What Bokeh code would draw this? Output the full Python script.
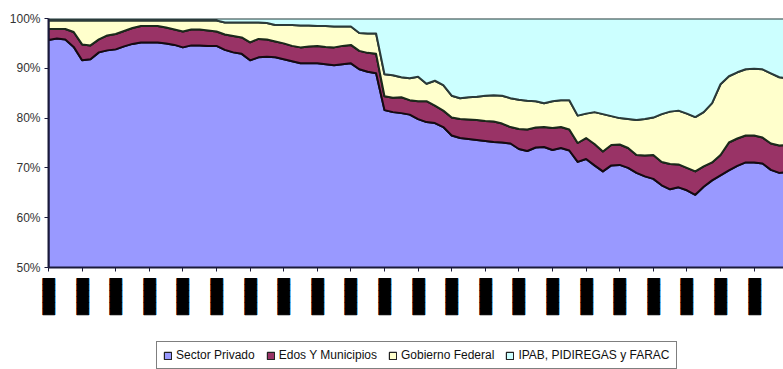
import numpy as np
from bokeh.plotting import figure
from bokeh.layouts import column
from bokeh.models import Range1d, FixedTicker, Legend, LegendItem
from bokeh.embed import file_html
from bokeh.resources import INLINE

# Monthly observations (index 0 = first month shown)
months = list(range(89))

# Share of total debt by holder, % of total
sector_privado = [
    95.7, 96.0, 95.8, 94.3, 91.6, 91.8, 93.2, 93.6, 93.8, 94.4,
    94.9, 95.2, 95.2, 95.2, 95.0, 94.7, 94.2, 94.6, 94.6, 94.5,
    94.5, 93.7, 93.2, 92.9, 91.6, 92.2, 92.3, 92.2, 91.8, 91.4,
    91.0, 91.0, 91.0, 90.8, 90.6, 90.8, 91.0, 89.8, 89.3, 89.0,
    81.6, 81.2, 81.0, 80.7, 79.8, 79.2, 79.0, 78.2, 76.5, 76.0,
    75.8, 75.6, 75.4, 75.2, 75.1, 74.9, 73.8, 73.4, 74.1, 74.2,
    73.6, 74.0, 73.5, 71.2, 71.8, 70.5, 69.3, 70.5, 70.6, 70.0,
    69.0, 68.3, 67.8, 66.5, 65.7, 66.1, 65.5, 64.6, 66.2, 67.5,
    68.5, 69.5, 70.4, 71.1, 71.1, 70.9, 69.6, 69.0, 69.2,
]
edos_municipios = [
    2.2, 1.9, 2.1, 3.0, 3.2, 2.8, 2.6, 3.0, 3.1, 3.1,
    3.2, 3.3, 3.3, 3.3, 3.2, 3.1, 3.2, 3.2, 3.2, 3.1,
    2.9, 3.1, 3.3, 3.3, 3.6, 3.7, 3.5, 3.2, 3.2, 3.1,
    3.2, 3.4, 3.5, 3.5, 3.6, 3.7, 3.7, 3.7, 3.8, 3.9,
    2.8, 2.9, 3.2, 2.9, 3.6, 4.2, 3.5, 3.3, 3.6, 3.8,
    3.9, 4.0, 4.0, 4.1, 3.8, 3.3, 4.0, 4.3, 4.0, 4.0,
    4.4, 4.2, 4.2, 3.8, 4.2, 4.3, 4.0, 4.1, 4.1, 4.0,
    3.6, 4.2, 4.8, 4.7, 5.1, 4.6, 4.5, 4.7, 4.1, 3.6,
    4.1, 5.6, 5.5, 5.4, 5.4, 5.2, 5.3, 5.5, 5.4,
]
gobierno_federal = [
    1.7, 1.7, 1.7, 2.3, 4.8, 5.0, 3.8, 3.0, 2.7, 2.1,
    1.5, 1.1, 1.1, 1.1, 1.4, 1.8, 2.2, 1.8, 1.8, 2.0,
    2.2, 2.4, 2.7, 3.0, 4.0, 3.3, 3.3, 3.3, 3.7, 4.2,
    4.4, 4.2, 4.0, 4.2, 4.2, 3.9, 3.7, 3.6, 3.9, 4.1,
    4.4, 4.5, 4.0, 4.4, 4.9, 3.5, 5.0, 5.1, 4.4, 4.2,
    4.5, 4.7, 5.1, 5.3, 5.6, 5.8, 5.9, 5.8, 5.3, 4.8,
    5.4, 5.4, 5.9, 5.5, 4.9, 6.4, 7.5, 5.8, 5.3, 5.8,
    7.0, 7.3, 7.5, 9.6, 10.5, 10.8, 10.9, 10.9, 10.9, 11.9,
    14.2, 13.3, 13.3, 13.3, 13.4, 13.7, 14.1, 13.7, 13.4,
]
ipab_pidiregas_farac = [
    0.4, 0.4, 0.4, 0.4, 0.4, 0.4, 0.4, 0.4, 0.4, 0.4,
    0.4, 0.4, 0.4, 0.4, 0.4, 0.4, 0.4, 0.4, 0.4, 0.4,
    0.4, 0.8, 0.8, 0.8, 0.8, 0.8, 0.9, 1.3, 1.3, 1.3,
    1.4, 1.4, 1.5, 1.5, 1.6, 1.6, 1.6, 2.9, 3.0, 3.0,
    11.2, 11.4, 11.8, 12.0, 11.7, 13.1, 12.5, 13.4, 15.5, 16.0,
    15.8, 15.7, 15.5, 15.4, 15.5, 16.0, 16.3, 16.5, 16.6, 17.0,
    16.6, 16.4, 16.4, 19.5, 19.1, 18.8, 19.2, 19.6, 20.0, 20.2,
    20.4, 20.2, 19.9, 19.2, 18.7, 18.5, 19.1, 19.8, 18.8, 17.0,
    13.2, 11.6, 10.8, 10.2, 10.1, 10.2, 11.0, 11.8, 12.0,
]

series_names = ["Sector Privado", "Edos Y Municipios", "Gobierno Federal",
                "IPAB, PIDIREGAS y FARAC"]
series_colors = ["#9999FF", "#993366", "#FFFFCC", "#CCFFFF"]
edge_colors = ["#14143c", "#140a10", "#1b2a1b", "#2a3a3a"]

y_ticks = [50, 60, 70, 80, 90, 100]
y_tick_labels = ["50%", "60%", "70%", "80%", "90%", "100%"]
x_ticks = list(range(0, 89, 4))
x_tick_labels = ["\u2588\u2588\u2588\u2588\u2588\u2588"] * len(x_ticks)

# ---- main stacked-share area chart ----
p = figure(width=783, height=330, output_backend="svg", toolbar_location=None,
           x_range=Range1d(0, 87.5), y_range=Range1d(50, 100),
           min_border_left=48, min_border_right=0, min_border_top=18,
           min_border_bottom=63)
p.background_fill_color = "white"
p.border_fill_color = "white"
p.outline_line_color = None
p.grid.visible = False

x = np.array(months, dtype=float)
stack = np.cumsum(np.array([sector_privado, edos_municipios,
                            gobierno_federal, ipab_pidiregas_farac]), axis=0)
lower = np.zeros_like(x)
for k in range(len(series_names)):
    upper = stack[k]
    xs = np.concatenate([x, x[::-1]])
    ys = np.concatenate([upper, lower[::-1]])
    p.patch(xs, ys, fill_color=series_colors[k], line_color=edge_colors[k],
            line_width=2, line_join="round")
    lower = upper

p.yaxis.ticker = FixedTicker(ticks=y_ticks)
p.yaxis.major_label_overrides = dict(zip(y_ticks, y_tick_labels))
p.yaxis.minor_tick_line_color = None
p.yaxis.major_tick_in = 0
p.yaxis.major_tick_out = 4
p.yaxis.major_label_standoff = 4
p.yaxis.major_label_text_font = "Liberation Sans"
p.yaxis.major_label_text_font_size = "12px"
p.yaxis.major_label_text_color = "#333333"

p.xaxis.ticker = FixedTicker(ticks=x_ticks)
p.xaxis.major_label_overrides = dict(zip(x_ticks, x_tick_labels))
p.xaxis.minor_tick_line_color = None
p.xaxis.major_tick_in = 0
p.xaxis.major_tick_out = 4
p.xaxis.major_label_standoff = 7
p.xaxis.major_label_orientation = np.pi / 2
p.xaxis.major_label_text_font = "DejaVu Sans Mono"
p.xaxis.major_label_text_font_size = "10px"
p.xaxis.major_label_text_color = "black"
p.xaxis.major_label_text_outline_color = "black"

for ax in (p.xaxis, p.yaxis):
    ax.axis_line_color = "#1a1a3a"
    ax.axis_line_width = 2
    ax.major_tick_line_color = "#1a1a3a"

# ---- legend strip under the chart ----
lg = figure(width=783, height=39, output_backend="svg", toolbar_location=None,
            x_range=Range1d(0, 1), y_range=Range1d(0, 1), min_border=0,
            x_axis_location=None, y_axis_location=None)
lg.grid.visible = False
lg.outline_line_color = None
lg.background_fill_color = "white"
lg.border_fill_color = "white"

# swatch sources sit outside the strip's ranges; only their legend keys show
items = []
for k, name in enumerate(series_names):
    sw = lg.patch([5, 6, 6], [5, 5, 6], fill_color=series_colors[k],
                  line_color="#222222", line_width=1.2)
    items.append(LegendItem(label=name, renderers=[sw]))

legend = Legend(items=items, orientation="horizontal", location=(108, 0))
legend.label_text_font = "Liberation Sans"
legend.label_text_font_size = "12px"
legend.label_text_color = "#111111"
legend.glyph_width = 9
legend.glyph_height = 9
legend.label_standoff = 4
legend.spacing = 11
legend.padding = 6
legend.margin = 0
legend.border_line_color = "black"
legend.border_line_width = 1.5
legend.background_fill_color = "white"
legend.background_fill_alpha = 1
lg.add_layout(legend, "center")

layout = column(p, lg, spacing=0)
open("out.html", "w").write(file_html(layout, INLINE))
